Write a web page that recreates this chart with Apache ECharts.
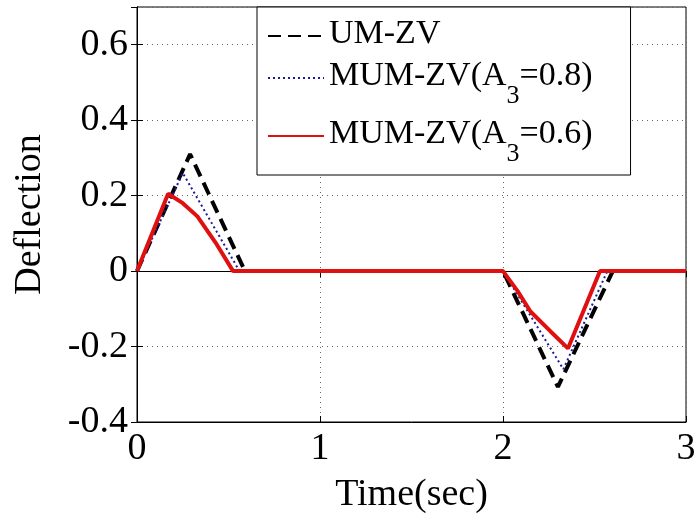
<!DOCTYPE html>
<html>
<head>
<meta charset="utf-8">
<script src="https://cdn.jsdelivr.net/npm/echarts@6/dist/echarts.min.js"></script>
<style>
  html, body { margin: 0; padding: 0; background: #fff; }
  #main { width: 697px; height: 516px; }
</style>
</head>
<body>
<div id="main"></div>
<script>
// values
var tUM = [0, 0.29, 0.59, 2, 2.30, 2.60, 3];
var yUM = [0, 0.31, 0, 0, -0.307, 0, 0];
var tM8 = [0, 0.25, 0.56, 2, 2.33, 2.57, 3];
var yM8 = [0, 0.26, 0, 0, -0.26, 0, 0];
var tM6 = [0, 0.17, 0.25, 0.33, 0.43, 0.525, 2, 2.08, 2.15, 2.26, 2.355, 2.53, 3];
var yM6 = [0, 0.205, 0.18, 0.145, 0.075, 0, 0, -0.053, -0.107, -0.16, -0.205, 0, 0];
var names = ['UM-ZV', 'MUM-ZV(A3=0.8)', 'MUM-ZV(A3=0.6)'];

function pairs(t, y) {
    var out = [];
    for (var i = 0; i < t.length; i++) out.push([t[i], y[i]]);
    return out;
}

var font = 'Liberation Serif';
var chart = echarts.init(document.getElementById('main'));

var gridLine = { show: true, lineStyle: { color: '#666', width: 1, type: [1, 4] } };

chart.setOption({
    animation: false,
    backgroundColor: '#fff',
    grid: {
        left: 137, right: 11, top: 7, bottom: 94,
        outerBoundsMode: 'none', containLabel: false,
        show: true, borderColor: '#000', borderWidth: 1
    },
    legend: {
        data: names,
        orient: 'vertical',
        left: 257,
        top: 7,
        padding: [10, 38, 8, 10],
        itemGap: 8,
        itemWidth: 56,
        itemHeight: 14,
        backgroundColor: '#fff',
        borderColor: '#000',
        borderWidth: 1,
        borderRadius: 0,
        itemStyle: { opacity: 0 },
        formatter: function (n) {
            if (n.indexOf('A3') < 0) return '{a|' + n + '}';
            var p = n.split('A3');
            return '{a|' + p[0] + 'A}{s|3}{a|' + p[1] + '}';
        },
        textStyle: {
            fontFamily: font,
            color: '#000',
            rich: {
                a: { fontFamily: font, fontSize: 34, color: '#000', lineHeight: 38, verticalAlign: 'top' },
                s: { fontFamily: font, fontSize: 26, color: '#000', lineHeight: 26, verticalAlign: 'top', padding: [24, 0, 0, 0] }
            }
        }
    },
    xAxis: [{
        type: 'value',
        min: 0, max: 3, interval: 1,
        name: 'Time(sec)',
        nameLocation: 'middle',
        nameGap: 54,
        nameTextStyle: { fontFamily: font, fontSize: 38, color: '#000' },
        axisLine: { show: true, onZero: false, lineStyle: { color: '#000', width: 1 } },
        axisTick: { show: true, inside: true, length: 6, lineStyle: { color: '#000' } },
        axisLabel: { fontFamily: font, fontSize: 38, color: '#000', margin: 8 },
        splitLine: gridLine
    }, {
        type: 'value', position: 'top',
        min: 0, max: 3, interval: 1,
        axisLine: { show: true, lineStyle: { color: '#000', width: 1 } },
        axisTick: { show: true, inside: true, length: 6, lineStyle: { color: '#000' } },
        axisLabel: { show: false },
        splitLine: { show: false }
    }],
    yAxis: [{
        type: 'value',
        min: -0.4, max: 0.7, interval: 0.2,
        name: 'Deflection',
        nameLocation: 'middle',
        nameGap: 88,
        nameTextStyle: { fontFamily: font, fontSize: 38, color: '#000' },
        axisLine: { show: true, onZero: false, lineStyle: { color: '#000', width: 1 } },
        axisTick: { show: true, inside: true, length: 6, lineStyle: { color: '#000' } },
        axisLabel: { fontFamily: font, fontSize: 38, color: '#000', margin: 9 },
        splitLine: gridLine
    }, {
        type: 'value', position: 'right',
        min: -0.4, max: 0.7, interval: 0.2,
        axisLine: { show: true, lineStyle: { color: '#000', width: 1 } },
        axisTick: { show: true, inside: true, length: 6, lineStyle: { color: '#000' } },
        axisLabel: { show: false },
        splitLine: { show: false }
    }],
    series: [{
        name: names[0],
        type: 'line',
        symbol: 'none',
        data: pairs(tUM, yUM),
        lineStyle: { color: '#000', width: 4, type: [13, 7] },
        itemStyle: { color: '#000' }
    }, {
        name: names[1],
        type: 'line',
        symbol: 'none',
        data: pairs(tM8, yM8),
        lineStyle: { color: '#1a1a9a', width: 2, type: [2, 3] },
        itemStyle: { color: '#1a1a9a' }
    }, {
        name: names[2],
        type: 'line',
        symbol: 'none',
        data: pairs(tM6, yM6),
        lineStyle: { color: '#e01010', width: 4 },
        itemStyle: { color: '#e01010' }
    }]
});
</script>
</body>
</html>
